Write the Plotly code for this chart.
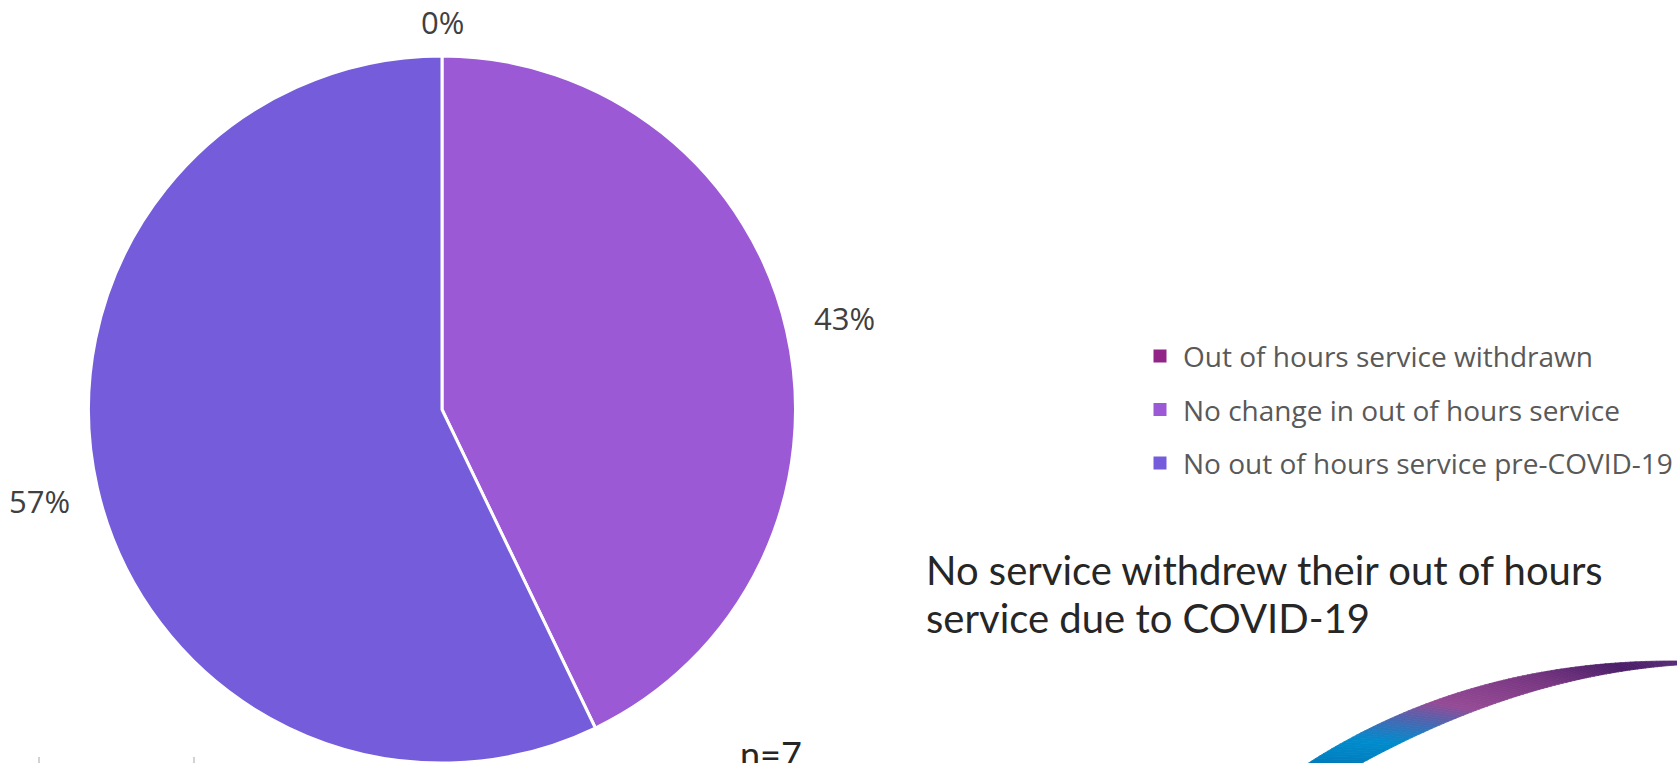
import math
import numpy as np
import plotly.graph_objects as go

# ---- data ----
categories = [
    "Out of hours service withdrawn",
    "No change in out of hours service",
    "No out of hours service pre-COVID-19",
]
counts = [0, 3, 4]
colors = ["#922488", "#9B59D6", "#755CDA"]
note_lines = ["No service withdrew their out of hours", "service due to COVID-19"]

W, H = 1677, 763


def px(x):
    return x / W


def py(y):
    return 1 - y / H


# pie geometry (pixels)
CX, CY, R = 442, 409.5, 353.5

fig = go.Figure()
fig.add_trace(go.Pie(
    labels=categories,
    values=counts,
    marker=dict(colors=colors, line=dict(color="white", width=3)),
    sort=False,
    direction="clockwise",
    rotation=0,
    textinfo="none",
    hoverinfo="label+percent",
    showlegend=False,
    domain=dict(x=[px(CX - R), px(CX + R)], y=[0, 2 * R / H]),
))

annotations = []
shapes = []

# percentage labels placed outside each slice (centre offset from the rim)
total = sum(counts)
label_font = dict(family="Open Sans", size=31, color="#404040")
gap_h, gap_v = 53, 34
cum = 0
for v in counts:
    frac = v / total
    mid = (cum + frac / 2) * 2 * math.pi
    cum += frac
    sx, sy = math.sin(mid), math.cos(mid)
    d = R + gap_h * abs(sx) + gap_v * abs(sy)
    annotations.append(dict(
        x=px(CX + d * sx), y=py(CY - d * sy), xref="paper", yref="paper",
        text=f"{round(frac * 100)}%", showarrow=False,
        xanchor="center", yanchor="middle", font=label_font,
    ))

# legend drawn as colour squares with labels
leg_x, leg_y0, leg_dy = 1160, 356, 53.5
for i, (name, col) in enumerate(zip(categories, colors)):
    yy = leg_y0 + i * leg_dy
    shapes.append(dict(
        type="rect", xref="paper", yref="paper",
        x0=px(leg_x - 6.5), x1=px(leg_x + 6.5), y0=py(yy + 6.5), y1=py(yy - 6.5),
        fillcolor=col, line=dict(width=0),
    ))
    annotations.append(dict(
        x=px(leg_x + 21), y=py(yy), xref="paper", yref="paper",
        text=name, showarrow=False, xanchor="left", yanchor="middle",
        font=dict(family="Open Sans", size=28, color="#595959"),
    ))

# summary note
for j, line in enumerate(note_lines):
    annotations.append(dict(
        x=px(924), y=py(570 + j * 48), xref="paper", yref="paper",
        text=line, showarrow=False, xanchor="left", yanchor="middle",
        font=dict(family="Lato", size=40, color="#262626"),
    ))

# sample size
annotations.append(dict(
    x=px(738), y=py(754), xref="paper", yref="paper",
    text=f"n={total}", showarrow=False, xanchor="left", yanchor="middle",
    font=dict(family="Lato", size=36, color="#262626"),
))

# small axis ticks at the bottom-left
for tx in (39, 194):
    shapes.append(dict(
        type="line", xref="paper", yref="paper",
        x0=px(tx), x1=px(tx), y0=py(757), y1=py(763),
        line=dict(color="#a6a6a6", width=1),
    ))

# decorative gradient swoosh in the bottom-right corner
def bez(p0, c, p2, t):
    return ((1 - t) ** 2 * p0[0] + 2 * (1 - t) * t * c[0] + t ** 2 * p2[0],
            (1 - t) ** 2 * p0[1] + 2 * (1 - t) * t * c[1] + t ** 2 * p2[1])


upper = ((1307, 764), (1468, 660), (1677, 661))
lower = ((1360, 764), (1521, 676), (1677, 665))
stops_x = [1300, 1345, 1375, 1420, 1455, 1540, 1620, 1677]
stops_c = [(0, 90, 140), (0, 130, 195), (0, 140, 205), (80, 100, 175),
           (150, 75, 150), (120, 55, 130), (75, 30, 105), (90, 45, 120)]


def grad(x):
    return "rgb({},{},{})".format(*[int(np.interp(x, stops_x, [c[k] for c in stops_c])) for k in range(3)])


n_seg = 80
ts = np.linspace(0, 1, n_seg + 1)
for a, b in zip(ts[:-1], ts[1:]):
    u0, u1 = bez(*upper, a), bez(*upper, b)
    l0, l1 = bez(*lower, a), bez(*lower, b)
    col = grad((u0[0] + u1[0] + l0[0] + l1[0]) / 4)
    path = "M {} {} L {} {} L {} {} L {} {} Z".format(
        px(u0[0]), py(u0[1]), px(u1[0]), py(u1[1]),
        px(l1[0]), py(l1[1]), px(l0[0]), py(l0[1]))
    shapes.append(dict(type="path", path=path, xref="paper", yref="paper",
                       fillcolor=col, line=dict(color=col, width=0.8)))

fig.update_layout(
    width=W, height=H,
    margin=dict(l=0, r=0, t=0, b=0),
    paper_bgcolor="white", plot_bgcolor="white",
    annotations=annotations, shapes=shapes,
    showlegend=False,
)

fig.write_html("out.html")
